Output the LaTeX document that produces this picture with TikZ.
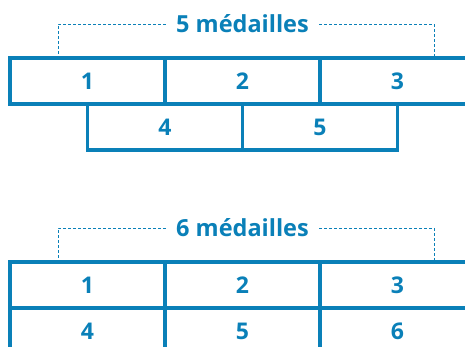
\documentclass[tikz,border=0pt]{standalone}
\usepackage{fontspec}
\setmainfont{Open Sans}
\usetikzlibrary{positioning}
\definecolor{medalblue}{HTML}{0A80B8}
\tikzset{
  cell/.style={draw=medalblue, line width=3.5pt, outer sep=0pt, inner sep=0pt,
    minimum width=155pt, minimum height=46pt, text=medalblue,
    font=\bfseries\fontsize{23}{23}\selectfont},
  title/.style={text=medalblue, inner xsep=10pt, inner ysep=0pt,
    font=\bfseries\fontsize{23.5}{23.5}\selectfont},
  bracket/.style={draw=medalblue, line width=1pt, dash pattern=on 3pt off 2pt}
}
\begin{document}
\begin{tikzpicture}[x=1pt, y=-1pt]
\useasboundingbox (0,0) rectangle (465,346);

% 5 medals
\node[cell] (a1) at (87.5,81) {1};
\node[cell, right=0pt of a1] (a2) {2};
\node[cell, right=0pt of a2] (a3) {3};
\node[cell, below=0pt of a1.south east] (a4) {4};
\node[cell, right=0pt of a4] (a5) {5};

% Bracket
\node[title] (t5) at (242.5,24) {5 médailles};
\coordinate (l5) at (58,58);
\coordinate (r5) at (434,58);
\draw[bracket] (t5.west) -| (l5);
\draw[bracket] (t5.east) -| (r5);

% 6 medals
\node[cell] (b1) at (87.5,285) {1};
\node[cell, right=0pt of b1] (b2) {2};
\node[cell, right=0pt of b2] (b3) {3};
\node[cell, below=0pt of b1] (b4) {4};
\node[cell, right=0pt of b4] (b5) {5};
\node[cell, right=0pt of b5] (b6) {6};

% Bracket
\node[title] (t6) at (242.5,228) {6 médailles};
\coordinate (l6) at (58,262);
\coordinate (r6) at (434,262);
\draw[bracket] (t6.west) -| (l6);
\draw[bracket] (t6.east) -| (r6);

\end{tikzpicture}
\end{document}
